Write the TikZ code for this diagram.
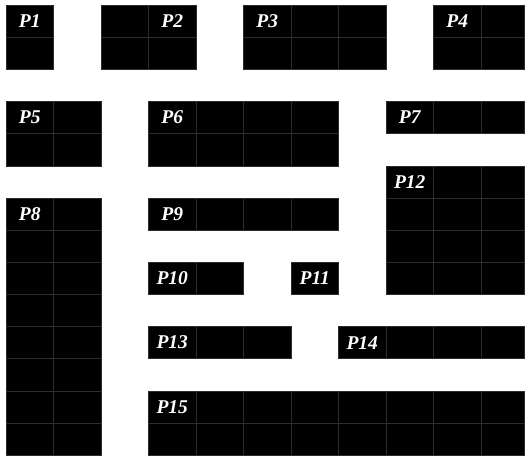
\documentclass[tikz,border=0pt]{standalone}
\usepackage{fontspec}
\setmainfont{Liberation Serif}
\tikzset{
  cellbox/.style={fill=black, draw=gray!35!black, line width=0.5pt},
  lbl/.style={text=white, font=\fontsize{19.5}{19.5}\selectfont\bfseries\itshape, inner sep=0pt},
}
% name, first col, first row, cols, rows, label col, label
\newcommand{\pblock}[7]{%
  \pgfmathtruncatemacro{\pbnc}{#4-1}%
  \pgfmathtruncatemacro{\pbnr}{#5-1}%
  \foreach \i in {0,...,\pbnc}{%
    \foreach \j in {0,...,\pbnr}{%
      \pgfmathsetmacro{\pbxa}{6+47.5*(#2+\i)}%
      \pgfmathsetmacro{\pbxb}{min(6+47.5*(#2+\i+1),524)}%
      \pgfmathsetmacro{\pbya}{5+32.15*(#3+\j)}%
      \pgfmathsetmacro{\pbyb}{5+32.15*(#3+\j+1)}%
      \path[cellbox] (\pbxa,\pbya) rectangle (\pbxb,\pbyb);
    }%
  }%
  \node[lbl] (#1) at ({6+47.5*(#6+0.5)},{5+32.15*(#3+0.5)}) {#7};
}
\begin{document}
\begin{tikzpicture}[x=1pt,y=-1pt]
\useasboundingbox[fill=white] (0,0) rectangle (530,460);
\pblock{p1}{0}{0}{1}{2}{0}{P1}
\pblock{p2}{2}{0}{2}{2}{3}{P2}
\pblock{p3}{5}{0}{3}{2}{5}{P3}
\pblock{p4}{9}{0}{2}{2}{9}{P4}
\pblock{p5}{0}{3}{2}{2}{0}{P5}
\pblock{p6}{3}{3}{4}{2}{3}{P6}
\pblock{p7}{8}{3}{3}{1}{8}{P7}
\pblock{p12}{8}{5}{3}{4}{8}{P12}
\pblock{p8}{0}{6}{2}{8}{0}{P8}
\pblock{p9}{3}{6}{4}{1}{3}{P9}
\pblock{p10}{3}{8}{2}{1}{3}{P10}
\pblock{p11}{6}{8}{1}{1}{6}{P11}
\pblock{p13}{3}{10}{3}{1}{3}{P13}
\pblock{p14}{7}{10}{4}{1}{7}{P14}
\pblock{p15}{3}{12}{8}{2}{3}{P15}
\end{tikzpicture}
\end{document}
